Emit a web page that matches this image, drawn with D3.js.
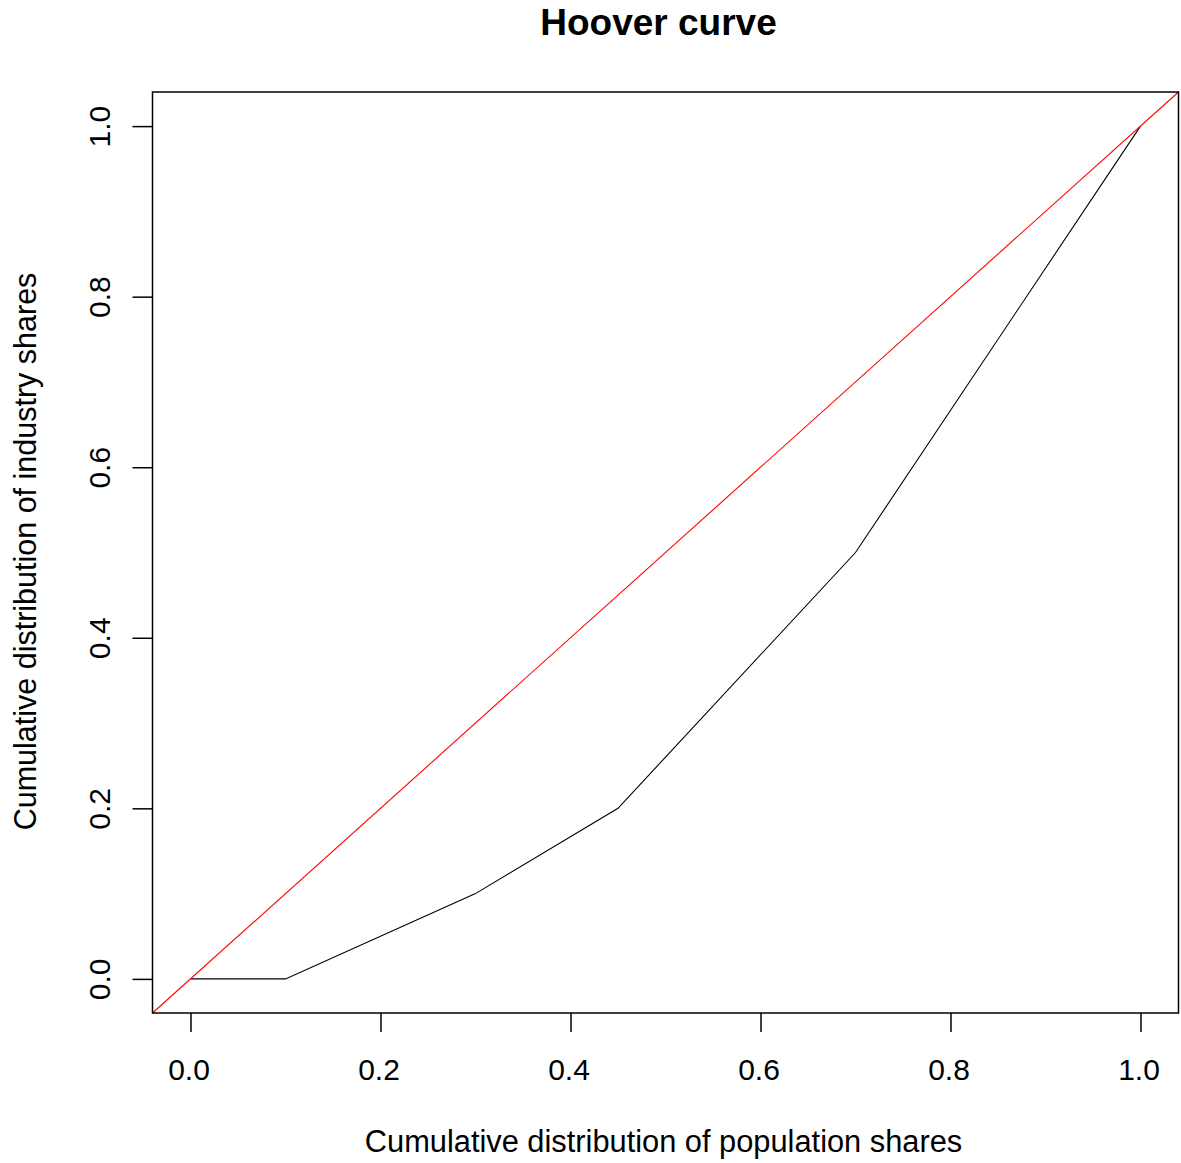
<!DOCTYPE html>
<html>
<head>
<meta charset="utf-8">
<script src="https://cdn.jsdelivr.net/npm/d3@7"></script>
<style>
  body { margin: 0; background: #fff; }
  svg text { font-family: "Liberation Sans", Arial, sans-serif; fill: #000; }
</style>
</head>
<body>
<div id="chart"></div>
<script>
// hoover curve points
let popShares = [0, 0.1, 0.3, 0.45, 0.7, 1.0];
let industryShares = [0, 0, 0.1, 0.2, 0.5, 1.0];

let xTicks = [0, 0.2, 0.4, 0.6, 0.8, 1.0];
let yTicks = [0, 0.2, 0.4, 0.6, 0.8, 1.0];

let titleText = "Hoover curve";
let xLabel = "Cumulative distribution of population shares";
let yLabel = "Cumulative distribution of industry shares";

let width = 1181, height = 1163;

let svg = d3.select("#chart").append("svg")
  .attr("width", width)
  .attr("height", height);

// R style: 4% padding on each side of the data range
let x = d3.scaleLinear().domain([-0.04, 1.04]).range([152.5, 1178.5]);
let y = d3.scaleLinear().domain([-0.04, 1.04]).range([1013, 92]);

let line = d3.line()
  .x(d => x(d[0]))
  .y(d => y(d[1]));

// diagonal of equality (abline 0,1)
let diag = x.domain().map(v => [v, v]);

// black hoover curve
svg.append("path")
  .datum(popShares.map((p, i) => [p, industryShares[i]]))
  .attr("d", line)
  .attr("fill", "none")
  .attr("stroke", "#000")
  .attr("stroke-width", 1.1);

svg.append("path")
  .datum(diag)
  .attr("d", line)
  .attr("fill", "none")
  .attr("stroke", "#ff0000")
  .attr("stroke-width", 1.1);

// box
svg.append("rect")
  .attr("x", x.range()[0])
  .attr("y", y.range()[1])
  .attr("width", x.range()[1] - x.range()[0])
  .attr("height", y.range()[0] - y.range()[1])
  .attr("fill", "none")
  .attr("stroke", "#000")
  .attr("stroke-width", 1.5);

// x axis
let gx = svg.append("g")
  .attr("transform", `translate(0,${y.range()[0]})`)
  .call(d3.axisBottom(x).tickValues(xTicks).tickSize(19).tickFormat(d3.format(".1f")));
gx.select(".domain").remove();
gx.selectAll("line").attr("stroke", "#000").attr("stroke-width", 1.5);
gx.selectAll("text")
  .attr("x", -2)
  .attr("y", 67)
  .attr("dy", 0)
  .attr("font-size", 30)
  .attr("font-family", "Liberation Sans, Arial, sans-serif")
  .attr("fill", "#000");

// y axis
let gy = svg.append("g")
  .attr("transform", `translate(${x.range()[0]},0)`)
  .call(d3.axisLeft(y).tickValues(yTicks).tickSize(20).tickFormat(d3.format(".1f")));
gy.select(".domain").remove();
gy.selectAll("line").attr("stroke", "#000").attr("stroke-width", 1.5);
gy.selectAll("text")
  .attr("x", 0)
  .attr("y", 0)
  .attr("dy", 0)
  .attr("text-anchor", "middle")
  .attr("transform", "translate(-42.5,0) rotate(-90)")
  .attr("font-size", 30)
  .attr("font-family", "Liberation Sans, Arial, sans-serif")
  .attr("fill", "#000");

// title and axis labels
let midX = (x.range()[0] + x.range()[1]) / 2;
let midY = (y.range()[0] + y.range()[1]) / 2;

svg.append("text")
  .attr("x", midX - 7)
  .attr("y", 35)
  .attr("text-anchor", "middle")
  .attr("font-size", 37)
  .attr("font-weight", "bold")
  .text(titleText);

svg.append("text")
  .attr("x", midX - 2)
  .attr("y", 1152)
  .attr("text-anchor", "middle")
  .attr("font-size", 30.8)
  .text(xLabel);

svg.append("text")
  .attr("transform", `translate(36,${midY - 1}) rotate(-90)`)
  .attr("text-anchor", "middle")
  .attr("font-size", 30.5)
  .text(yLabel);
</script>
</body>
</html>
